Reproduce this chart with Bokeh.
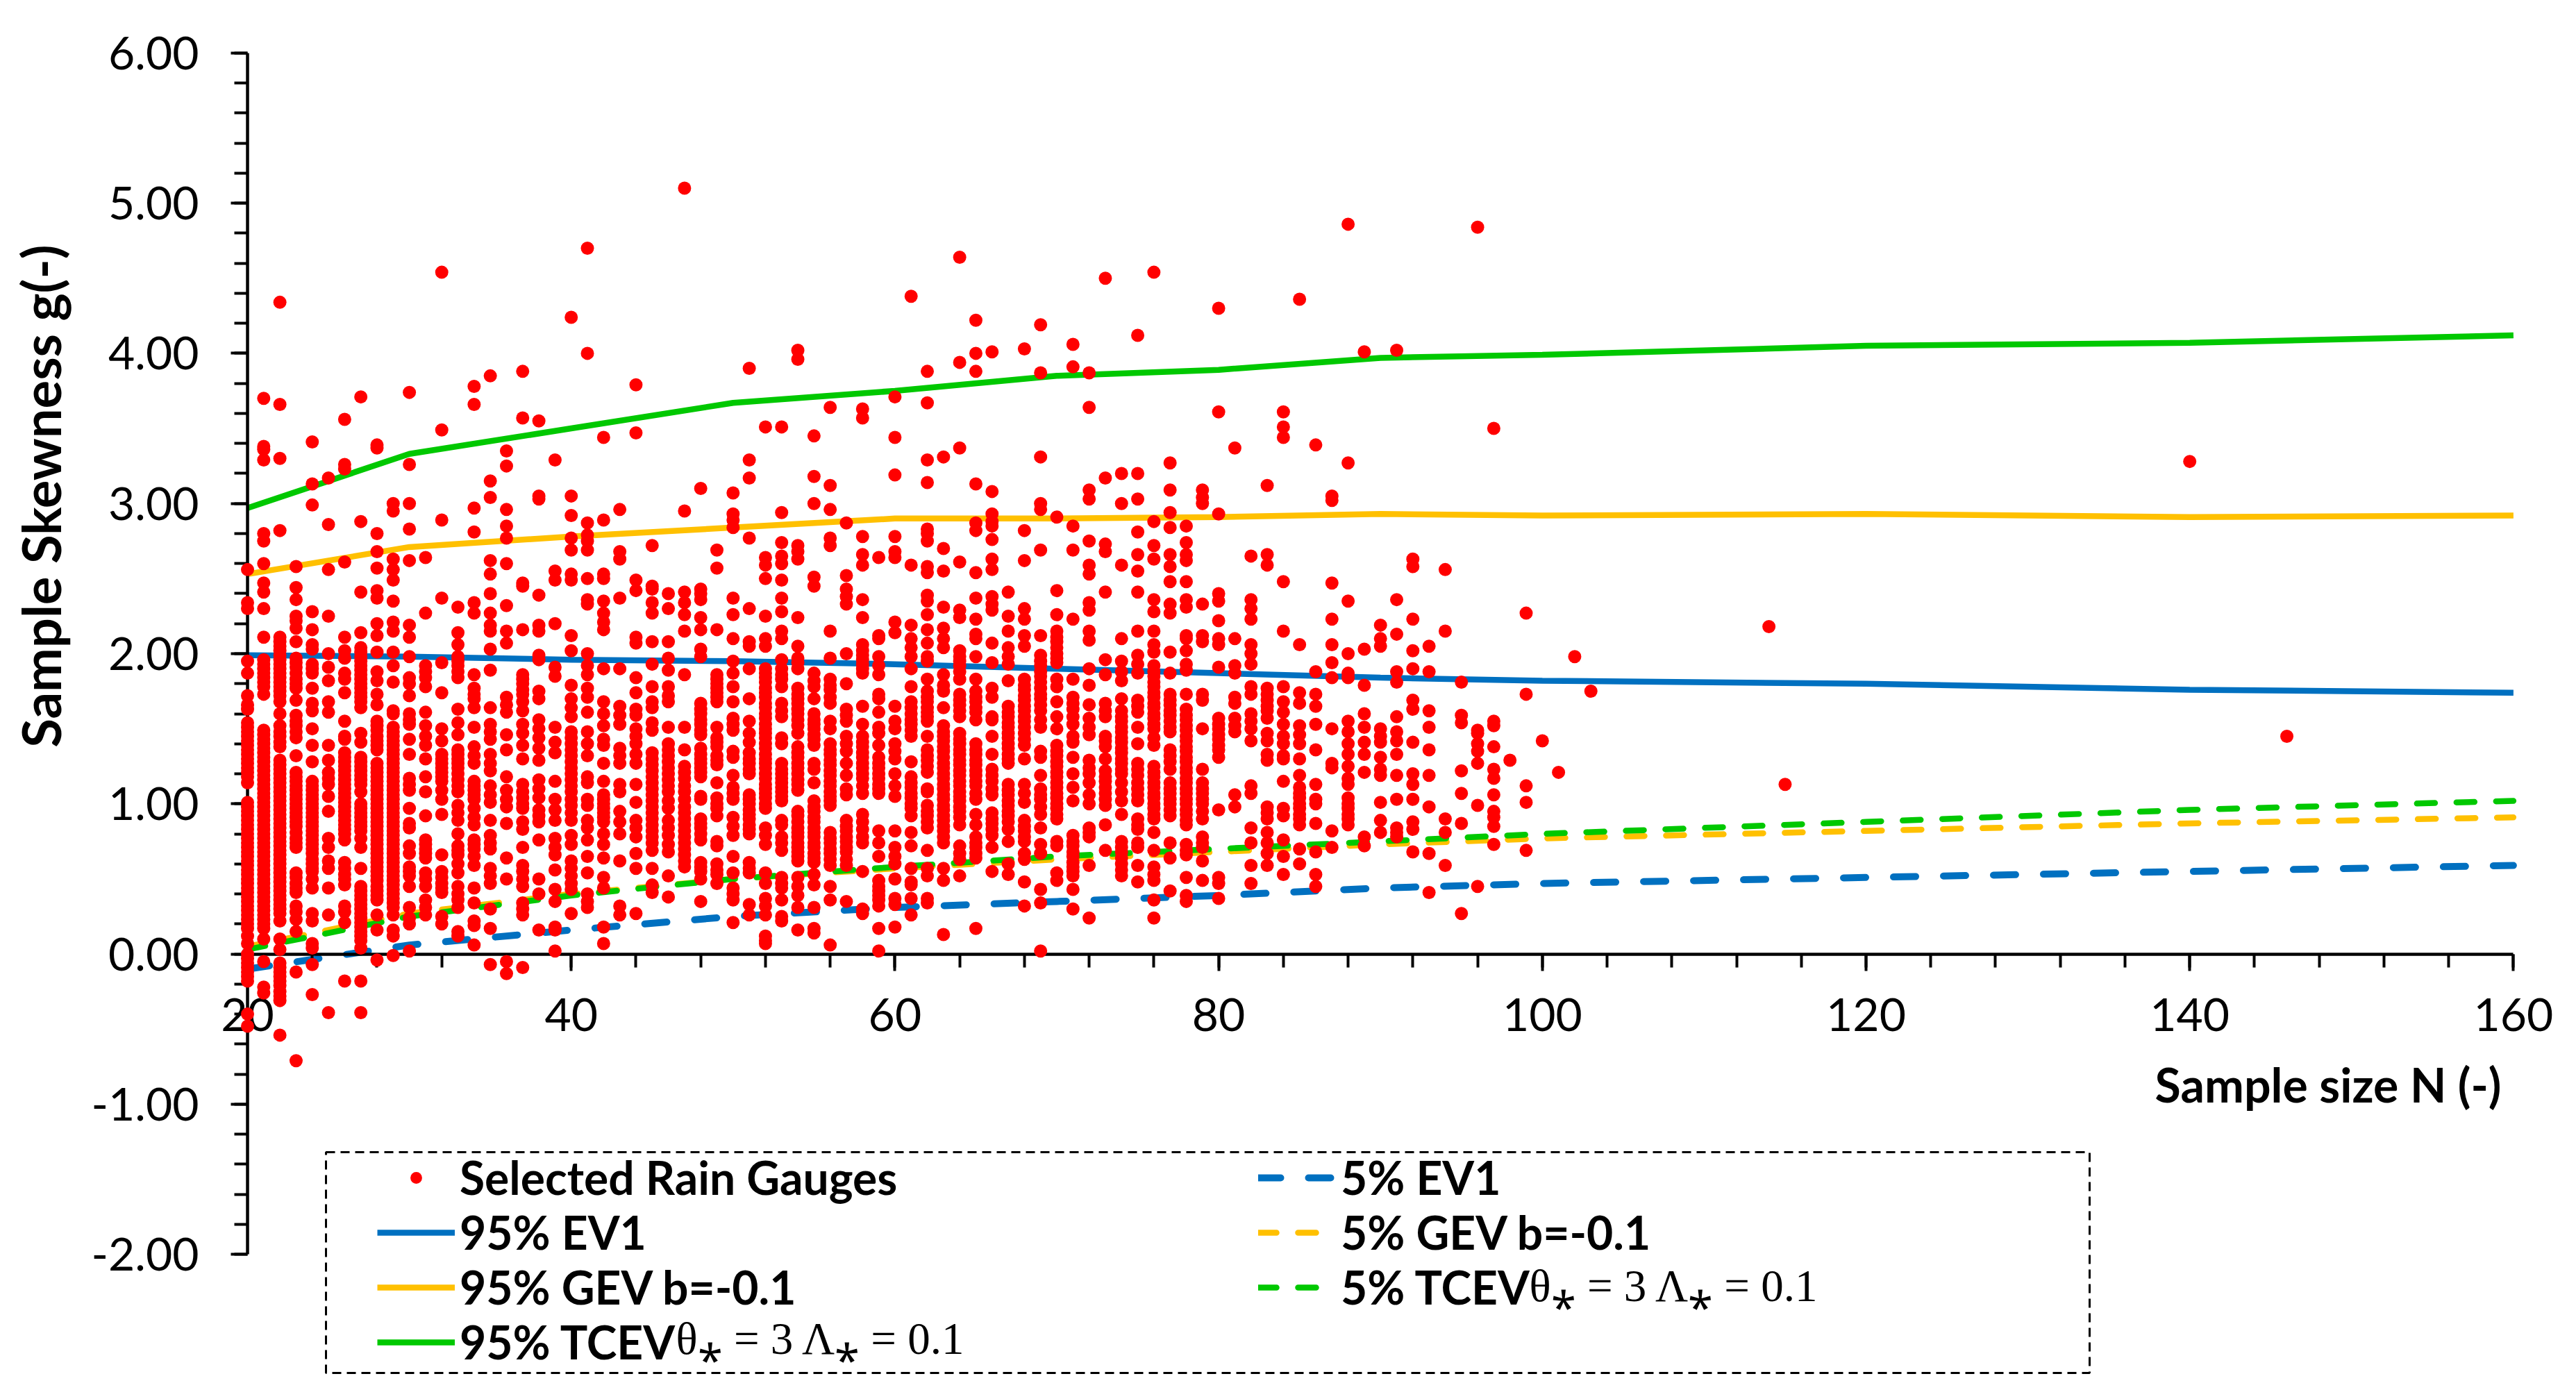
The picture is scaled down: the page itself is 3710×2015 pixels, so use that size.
import math
from bokeh.embed import file_html
from bokeh.resources import INLINE
from bokeh.plotting import figure
from bokeh.models import (Range1d, LinearAxis, FixedTicker, NumeralTickFormatter,
                          Legend, LegendItem, Label, BoxAnnotation)

# ---- rain gauge points: sample size N -> skewness values
g20=[2.56,2.34,2.30,1.95,1.87,1.72,1.66,1.63,1.54,1.51,1.48,1.45,1.42,1.39,1.36,1.33,1.30,1.27,1.24,1.21,1.18,1.14,1.01,.98,.95,.92,.89,.86,.83,.80,.77,.74,.71,.68,.65,.62,.59,.56,.53,.50,.47,.44,.41,.38,.35,.32,.29,.26,.23,.20,.17,.12,.07,0,-.03,-.06,-.09,-.12,-.15,-.18,-.40,-.48]
g21=[3.70,3.38,3.36,3.29,2.80,2.75,2.60,2.47,2.41,2.30,2.11,1.96,1.93,1.90,1.87,1.84,1.81,1.78,1.73,1.49,1.46,1.43,1.40,1.37,1.34,1.31,1.28,1.25,1.22,1.19,1.16,1.13,1.10,1.07,1.04,1.01,.98,.95,.92,.89,.86,.83,.80,.77,.74,.71,.68,.65,.62,.59,.56,.53,.50,.47,.44,.41,.38,.35,.32,.29,.26,.23,.20,.17,.10,-.05,-.22,-.26]
g22=[4.34,3.66,3.30,2.82,2.11,2.08,2.05,2.02,1.99,1.96,1.93,1.90,1.87,1.84,1.81,1.78,1.75,1.72,1.68,1.60,1.52,1.48,1.45,1.41,1.38,1.29,1.26,1.23,1.20,1.17,1.14,1.11,1.08,1.05,1.02,.99,.96,.93,.90,.87,.84,.81,.78,.75,.72,.69,.66,.63,.60,.57,.54,.51,.48,.45,.42,.39,.36,.33,.30,.27,.22,.10,.03,-.06,-.09,-.12,-.15,-.18,-.21,-.25,-.28,-.31,-.54]
g23=[2.58,2.44,2.36,2.25,2.22,2.17,2.08,1.97,1.94,1.91,1.87,1.83,1.80,1.77,1.69,1.59,1.55,1.52,1.48,1.44,1.32,1.21,1.18,1.15,1.12,1.09,1.06,1.03,1.0,.97,.94,.91,.88,.85,.81,.77,.74,.71,.54,.51,.47,.44,.41,.32,.28,.23,.15,-.12,-.71]
g24=[3.41,3.13,2.99,2.28,2.16,2.06,2.03,1.93,1.90,1.87,1.77,1.67,1.62,1.50,1.39,1.28,1.15,1.12,1.09,1.06,1.03,1.0,.97,.94,.91,.88,.85,.82,.79,.76,.73,.70,.67,.63,.60,.57,.55,.50,.44,.27,.22,.07,.04,-.07,-.27]
g25=[3.17,2.86,2.56,2.25,2.0,1.91,1.82,1.68,1.61,1.39,1.29,1.21,1.17,1.13,1.05,.95,.77,.71,.62,.57,.44,.26,-.39]
g26=[3.56,3.26,3.23,2.61,2.11,2.02,1.97,1.87,1.83,1.74,1.55,1.45,1.43,1.34,1.31,1.28,1.25,1.22,1.19,1.16,1.13,1.10,1.07,1.04,1.01,.98,.95,.92,.89,.86,.83,.80,.76,.61,.57,.53,.50,.46,.32,.28,.21,-.18]
g27=[3.71,2.88,2.41,2.14,2.04,2.01,1.98,1.95,1.92,1.89,1.86,1.83,1.80,1.77,1.74,1.71,1.68,1.64,1.47,1.41,1.31,1.28,1.25,1.22,1.19,1.16,1.13,1.08,1.0,.97,.94,.91,.88,.85,.82,.77,.71,.57,.45,.42,.39,.36,.33,.30,.27,.24,.21,.18,.15,.12,.09,.04,-.18,-.39]
g28=[3.39,3.37,2.80,2.68,2.57,2.42,2.37,2.20,2.12,2.01,1.88,1.82,1.73,1.66,1.55,1.52,1.49,1.45,1.42,1.39,1.36,1.27,1.24,1.21,1.18,1.15,1.12,1.09,1.06,1.03,1.0,.97,.94,.91,.88,.85,.82,.79,.76,.73,.70,.67,.64,.61,.58,.55,.52,.49,.45,.42,.39,.36,.26,.16,-.04]
g29=[3.0,2.95,2.63,2.56,2.49,2.35,2.21,2.15,2.01,1.92,1.81,1.62,1.60,1.51,1.48,1.45,1.42,1.39,1.36,1.33,1.30,1.27,1.24,1.21,1.18,1.15,1.12,1.09,1.06,1.03,1.0,.97,.94,.91,.88,.85,.82,.79,.76,.73,.70,.67,.64,.61,.58,.55,.52,.49,.46,.43,.40,.37,.34,.31,.26,.16,.12,-.01]
g30=[3.74,3.26,3.0,2.83,2.62,2.19,2.11,1.98,1.84,1.80,1.72,1.60,1.56,1.53,1.43,1.33,1.17,1.13,1.09,.97,.87,.84,.72,.67,.58,.55,.52,.45,.31,.24,.20,.02]
g31=[2.64,2.27,1.92,1.88,1.84,1.78,1.61,1.52,1.45,1.39,1.30,1.18,1.08,.92,.76,.73,.70,.67,.64,.54,.50,.45,.36,.31,.26]
g32=[4.54,3.49,2.89,2.37,1.94,1.74,1.50,1.42,1.33,1.30,1.27,1.24,1.21,1.18,1.15,1.09,1.03,.93,.66,.55,.51,.47,.44,.41,.25,.20]
g33=[2.31,2.14,2.06,1.98,1.95,1.92,1.88,1.84,1.63,1.54,1.46,1.36,1.33,1.30,1.27,1.24,1.20,1.16,1.12,1.08,.99,.94,.89,.80,.72,.69,.66,.60,.54,.45,.40,.36,.31,.15,.12]
g34=[3.78,3.66,2.97,2.81,2.34,2.27,1.86,1.77,1.73,1.70,1.64,1.51,1.38,1.32,1.27,1.15,1.12,1.09,1.06,1.03,.97,.91,.86,.76,.73,.70,.65,.59,.44,.34,.22,.19,.06]
g35=[3.85,3.15,3.04,2.62,2.53,2.40,2.27,2.19,2.15,2.03,1.89,1.64,1.53,1.48,1.43,1.33,1.27,1.22,1.12,1.06,1.01,.89,.79,.74,.70,.57,.52,.47,.30,.17,-.07]
g36=[3.35,3.25,2.96,2.85,2.77,2.60,2.32,2.15,2.07,1.71,1.66,1.61,1.46,1.36,1.18,1.09,1.03,.98,.87,.64,.50,-.05,-.13]
g37=[3.88,3.57,2.47,2.45,2.16,1.86,1.83,1.80,1.76,1.73,1.68,1.62,1.53,1.47,1.39,1.30,1.13,1.08,1.04,1.0,.97,.88,.83,.71,.59,.55,.50,.45,.34,.30,.26,-.09]
g38=[3.55,3.05,3.03,2.39,2.19,2.15,1.99,1.96,1.75,1.70,1.56,1.50,1.44,1.37,1.29,1.16,1.10,1.04,.96,.92,.88,.76,.50,.40,.16]
g39=[3.29,2.55,2.49,2.20,1.91,1.85,1.51,1.41,1.34,1.15,1.03,.96,.89,.77,.71,.66,.56,.43,.35,.18,.16,.02]
g40=[4.24,3.05,2.92,2.77,2.69,2.53,2.49,2.12,2.02,1.79,1.70,1.64,1.58,1.48,1.44,1.40,1.36,1.32,1.28,1.24,1.20,1.16,1.12,1.08,1.03,.99,.94,.89,.79,.73,.62,.57,.52,.47,.43,.27]
g41=[4.70,4.0,2.87,2.79,2.75,2.69,2.50,2.36,2.33,2.0,1.92,1.86,1.77,1.71,1.61,1.48,1.40,1.32,1.18,1.14,1.03,.99,.89,.84,.76,.65,.54,.40,.35,.31]
g42=[3.44,2.89,2.53,2.50,2.35,2.27,2.21,2.16,1.90,1.68,1.60,1.52,1.43,1.39,1.27,1.15,1.06,1.03,1.0,.97,.94,.91,.88,.80,.73,.64,.51,.44,.18,.07]
g43=[2.96,2.68,2.63,2.37,1.90,1.65,1.59,1.53,1.37,1.32,1.27,1.13,1.08,.95,.88,.80,.62,.32,.26]
g44=[3.79,3.47,2.49,2.42,2.11,2.07,1.84,1.74,1.63,1.59,1.50,1.45,1.40,1.33,1.27,1.13,1.01,.89,.84,.78,.67,.57,.27]
g45=[2.72,2.45,2.43,2.34,2.27,2.08,1.93,1.78,1.68,1.64,1.54,1.49,1.34,1.30,1.26,1.22,1.18,1.14,1.10,1.06,1.02,.98,.94,.90,.86,.82,.78,.74,.69,.57,.46,.41]
g46=[2.40,2.30,2.08,1.97,1.89,1.78,1.72,1.68,1.51,1.40,1.36,1.32,1.28,1.24,1.20,1.16,1.12,1.08,1.02,.97,.89,.84,.79,.73,.68,.52,.38]
g47=[5.10,2.95,2.41,2.34,2.26,2.15,1.86,1.51,1.36,1.25,1.21,1.17,1.12,1.08,1.03,.98,.94,.90,.86,.82,.78,.74,.70,.66,.62,.58]
g48=[3.10,2.43,2.40,2.36,2.24,2.16,2.03,1.98,1.67,1.63,1.60,1.56,1.53,1.49,1.46,1.37,1.33,1.30,1.27,1.24,1.21,1.18,1.05,1.03,.90,.87,.84,.80,.76,.61,.58,.55,.50,.35]
g49=[2.69,2.57,2.16,1.86,1.83,1.80,1.77,1.74,1.71,1.68,1.51,1.44,1.41,1.38,1.32,1.29,1.26,1.14,1.04,1.0,.97,.92,.75,.72,.60,.56,.53,.47]
g50=[3.07,2.93,2.89,2.84,2.37,2.26,2.10,1.95,1.87,1.78,1.68,1.57,1.53,1.49,1.35,1.31,1.19,1.11,1.07,1.03,.91,.85,.79,.65,.54,.44,.40,.36,.21]
g51=[3.90,3.29,3.17,2.77,2.30,2.08,2.05,1.90,1.70,1.55,1.47,1.41,1.34,1.30,1.27,1.23,1.20,1.06,1.03,1.0,.96,.93,.90,.86,.83,.80,.61,.57,.54,.33,.26]
g52=[3.51,2.64,2.59,2.50,2.25,2.10,2.05,1.90,1.87,1.84,1.81,1.77,1.74,1.71,1.67,1.64,1.60,1.57,1.53,1.50,1.47,1.44,1.40,1.37,1.33,1.30,1.27,1.24,1.20,1.17,1.13,1.10,1.07,1.04,1.0,.97,.84,.79,.73,.54,.47,.37,.32,.26,.12,.09,.07]
g53=[3.51,2.94,2.74,2.65,2.60,2.49,2.37,2.28,2.15,2.10,1.96,1.90,1.86,1.83,1.78,1.67,1.62,1.58,1.44,1.40,1.27,1.23,1.20,1.17,1.14,1.11,1.08,1.05,1.02,.89,.86,.78,.74,.69,.51,.47,.44,.36,.25,.22]
g54=[4.02,3.96,2.72,2.68,2.63,2.24,2.05,1.97,1.94,1.90,1.77,1.73,1.70,1.67,1.63,1.60,1.56,1.52,1.47,1.38,1.34,1.31,1.27,1.24,1.20,1.16,1.13,1.09,.95,.92,.88,.84,.81,.78,.74,.71,.68,.65,.62,.51,.45,.39,.31,.16]
g55=[3.45,3.18,3.0,2.51,2.45,1.87,1.82,1.78,1.70,1.60,1.56,1.53,1.50,1.46,1.43,1.39,1.27,1.23,1.14,1.02,.98,.95,.91,.88,.84,.81,.78,.74,.71,.67,.64,.61,.53,.46,.31,.17,.14]
g56=[3.64,3.12,2.96,2.77,2.72,2.15,1.97,1.83,1.79,1.76,1.71,1.67,1.55,1.50,1.40,1.36,1.33,1.29,1.26,1.22,1.19,1.15,1.12,1.08,1.05,1.02,.99,.81,.77,.74,.70,.67,.63,.59,.45,.36,.06]
g57=[2.87,2.52,2.43,2.38,2.33,2.0,1.80,1.63,1.59,1.55,1.45,1.40,1.35,1.27,1.19,1.10,1.06,.89,.85,.82,.78,.75,.71,.68,.63,.59,.35]
g58=[3.63,3.57,2.78,2.66,2.59,2.36,2.24,2.06,2.02,1.99,1.96,1.93,1.90,1.87,1.65,1.53,1.45,1.41,1.38,1.34,1.31,1.27,1.24,1.20,1.17,1.12,1.07,.93,.88,.83,.78,.74,.55,.30,.27]
g59=[2.64,2.12,2.10,1.98,1.92,1.86,1.73,1.70,1.61,1.51,1.47,1.39,1.31,1.27,1.24,1.20,1.17,1.13,1.10,1.07,.82,.74,.65,.49,.45,.42,.39,.36,.32,.17,.02]
g60=[3.71,3.44,3.19,2.78,2.68,2.64,2.21,2.14,1.65,1.55,1.50,1.40,1.35,1.30,1.20,1.12,1.05,.82,.71,.65,.60,.50,.37,.33,.18]
g61=[4.38,2.59,2.19,2.10,2.04,1.98,1.90,1.78,1.68,1.64,1.60,1.56,1.53,1.49,1.45,1.28,1.18,1.14,1.11,1.07,1.04,1.0,.97,.92,.81,.72,.57,.48,.46,.37,.26]
g62=[3.88,3.67,3.29,3.14,2.83,2.80,2.75,2.58,2.54,2.39,2.35,2.26,2.16,2.07,1.98,1.95,1.83,1.75,1.71,1.68,1.64,1.61,1.58,1.55,1.45,1.36,1.32,1.29,1.25,1.21,1.10,1.08,.99,.95,.92,.88,.84,.69,.57,.52,.37,.34]
g63=[3.31,2.70,2.55,2.31,2.17,2.10,2.04,1.86,1.79,1.75,1.64,1.52,1.48,1.45,1.42,1.38,1.35,1.31,1.27,1.24,1.20,1.17,1.13,1.10,1.06,1.03,.99,.96,.92,.89,.85,.82,.78,.74,.57,.49,.13]
g64=[4.64,3.94,3.37,2.61,2.29,2.24,2.02,1.98,1.95,1.92,1.88,1.83,1.73,1.69,1.66,1.62,1.58,1.47,1.43,1.40,1.36,1.33,1.29,1.26,1.22,1.19,1.15,1.12,1.08,1.05,1.02,.98,.95,.91,.86,.72,.67,.63,.52]
g65=[4.22,4.0,3.88,3.13,2.87,2.82,2.54,2.37,2.23,2.13,2.10,1.98,1.83,1.75,1.71,1.68,1.64,1.61,1.56,1.40,1.36,1.33,1.29,1.26,1.22,1.19,1.15,1.12,1.07,1.03,.93,.86,.78,.74,.71,.67,.64,.17]
g66=[4.01,3.08,2.93,2.88,2.85,2.76,2.63,2.56,2.38,2.33,2.29,2.07,1.94,1.77,1.71,1.58,1.56,1.45,1.33,1.23,1.19,1.15,1.10,1.06,.94,.90,.87,.83,.79,.71,.55]
g67=[2.41,2.25,2.15,2.04,1.98,1.93,1.82,1.65,1.61,1.58,1.54,1.51,1.47,1.44,1.40,1.37,1.33,1.30,1.27,1.13,1.09,1.06,1.02,.99,.95,.92,.88,.83,.75,.60,.53]
g68=[4.03,2.82,2.62,2.30,2.23,2.12,2.05,1.83,1.79,1.76,1.72,1.69,1.65,1.62,1.58,1.55,1.51,1.47,1.43,1.39,1.30,1.13,1.07,1.01,.89,.85,.82,.78,.75,.67,.63,.48,.32]
g69=[4.19,3.87,3.31,3.0,2.96,2.69,2.12,1.99,1.95,1.92,1.88,1.85,1.81,1.77,1.73,1.70,1.66,1.62,1.56,1.51,1.35,1.31,1.19,1.10,1.06,1.03,.98,.93,.84,.73,.67,.43,.34,.02]
g70=[2.91,2.42,2.26,2.15,2.11,2.08,2.04,2.0,1.97,1.94,1.83,1.78,1.68,1.58,1.50,1.39,1.35,1.32,1.28,1.25,1.21,1.18,1.14,1.11,1.07,1.04,1.0,.97,.93,.90,.75,.72,.54,.49]
g71=[4.06,3.91,2.85,2.69,2.23,1.83,1.71,1.67,1.63,1.58,1.53,1.45,1.41,1.31,1.20,1.11,1.02,.79,.75,.72,.68,.65,.61,.58,.55,.52,.43,.30]
g72=[3.87,3.64,3.09,3.03,2.75,2.59,2.53,2.34,2.29,2.15,2.09,1.90,1.79,1.66,1.57,1.51,1.46,1.29,1.24,1.20,1.14,1.06,1.0,.84,.81,.78,.59,.24]
g73=[4.50,3.17,2.73,2.68,2.41,1.96,1.86,1.67,1.62,1.58,1.45,1.42,1.38,1.30,1.22,1.18,1.15,1.11,1.07,1.03,.99,.86,.69]
g74=[3.20,3.0,2.59,2.10,1.95,1.88,1.82,1.70,1.62,1.58,1.55,1.51,1.48,1.44,1.41,1.37,1.34,1.30,1.27,1.23,1.20,1.14,1.08,1.02,.93,.75,.71,.68,.64,.60,.56,.52]
g75=[4.12,3.20,3.03,2.81,2.66,2.55,2.41,2.15,1.99,1.93,1.87,1.69,1.65,1.61,1.51,1.40,1.27,1.23,1.19,1.14,1.10,1.06,1.02,.90,.86,.83,.74,.71,.59,.48]
g76=[4.54,2.88,2.72,2.63,2.36,2.28,2.15,2.06,2.01,1.92,1.88,1.85,1.81,1.78,1.74,1.71,1.67,1.64,1.60,1.57,1.53,1.50,1.44,1.39,1.25,1.21,1.18,1.14,1.11,1.07,1.04,1.0,.97,.93,.90,.81,.69,.58,.53,.49,.36,.24]
g77=[3.27,3.09,2.94,2.84,2.66,2.58,2.48,2.33,2.27,2.01,1.87,1.73,1.69,1.66,1.62,1.59,1.55,1.51,1.48,1.36,1.32,1.28,1.23,1.14,1.10,1.07,1.03,1.0,.96,.92,.74,.64,.42]
g78=[2.85,2.74,2.66,2.62,2.48,2.36,2.31,2.12,2.10,2.02,1.93,1.89,1.73,1.63,1.59,1.56,1.52,1.49,1.45,1.42,1.38,1.35,1.31,1.28,1.24,1.21,1.17,1.14,1.10,1.07,1.03,1.0,.96,.93,.89,.86,.73,.69,.66,.51,.39,.35]
g79=[3.09,3.04,3.0,2.33,2.12,2.08,1.73,1.69,1.50,1.23,1.14,1.10,1.07,1.03,1.0,.95,.90,.78,.74,.71,.62,.49]
g80=[4.30,3.61,2.93,2.40,2.35,2.22,2.10,2.06,1.91,1.57,1.53,1.50,1.46,1.43,1.39,1.36,1.31,.96,.51,.47,.37]
g81=[3.37,2.10,1.92,1.87,1.71,1.67,1.57,1.52,1.48,1.06,.98]
g82=[2.65,2.36,2.30,2.23,2.06,2.0,1.93,1.78,1.73,1.60,1.55,1.50,1.42,1.12,1.07,.84,.74,.59,.47]
g83=[3.12,2.66,2.59,1.77,1.73,1.69,1.65,1.62,1.57,1.47,1.42,1.33,1.29,.98,.94,.90,.81,.74,.67,.59]
g84=[3.61,3.51,3.44,2.48,2.15,1.78,1.68,1.61,1.53,1.45,1.40,1.32,1.30,1.15,.97,.92,.76,.65,.53]
g85=[4.36,2.06,1.74,1.67,1.52,1.46,1.40,1.30,1.19,1.11,1.07,1.04,1.0,.97,.93,.90,.86,.70,.60]
g86=[3.39,1.88,1.73,1.65,1.53,1.36,1.13,1.03,1.0,.87,.68,.53,.45]
g87=[3.05,3.02,2.47,2.23,2.06,1.94,1.84,1.50,1.27,1.24,.82,.71]
g88=[4.86,3.27,2.35,2.0,1.87,1.84,1.55,1.48,1.40,1.33,1.25,1.17,1.13,1.04,1.0,.97,.93,.90,.86]
g89=[4.01,2.03,1.79,1.60,1.51,1.41,1.33,1.21,.78,.72]
g90=[2.19,2.10,2.05,1.50,1.45,1.41,1.31,1.23,1.19,1.01,.89,.81]
g91=[4.02,2.36,2.13,1.88,1.81,1.58,1.48,1.42,1.33,1.19,1.03,.84,.81,.78]
g92=[2.63,2.58,2.23,2.02,1.90,1.69,1.63,1.41,1.20,1.13,1.03,.88,.83,.68]
g93=[2.05,1.88,1.62,1.51,1.36,1.19,.98,.67,.41]
g94=[2.56,2.15,.90,.81,.59]
g95=[1.81,1.59,1.54,1.22,1.07,.87,.27]
g96=[4.84,1.49,1.47,1.40,1.35,1.27,.99,.45]
g97=[3.50,1.55,1.52,1.38,1.23,1.17,1.06,.95,.91,.85,.73]
g98=[1.29]
g99=[2.27,1.73,1.12,1.01,.69]
g100=[1.42]
g101=[1.21]
g102=[1.98]
g103=[1.75]
g114=[2.18]
g115=[1.13]
g140=[3.28]
g146=[1.45]

gauge_columns = [(20,g20),(21,g21),(22,g22),(23,g23),(24,g24),(25,g25),(26,g26),(27,g27),(28,g28),(29,g29),
 (30,g30),(31,g31),(32,g32),(33,g33),(34,g34),(35,g35),(36,g36),(37,g37),(38,g38),(39,g39),
 (40,g40),(41,g41),(42,g42),(43,g43),(44,g44),(45,g45),(46,g46),(47,g47),(48,g48),(49,g49),
 (50,g50),(51,g51),(52,g52),(53,g53),(54,g54),(55,g55),(56,g56),(57,g57),(58,g58),(59,g59),
 (60,g60),(61,g61),(62,g62),(63,g63),(64,g64),(65,g65),(66,g66),(67,g67),(68,g68),(69,g69),
 (70,g70),(71,g71),(72,g72),(73,g73),(74,g74),(75,g75),(76,g76),(77,g77),(78,g78),(79,g79),
 (80,g80),(81,g81),(82,g82),(83,g83),(84,g84),(85,g85),(86,g86),(87,g87),(88,g88),(89,g89),
 (90,g90),(91,g91),(92,g92),(93,g93),(94,g94),(95,g95),(96,g96),(97,g97),(98,g98),(99,g99),
 (100,g100),(101,g101),(102,g102),(103,g103),(114,g114),(115,g115),(140,g140),(146,g146)]

# ---- curves
curve_n     = [20,30,40,50,60,70,80,90,100,120,140,160]
ev1_95      = [1.99,1.98,1.96,1.95,1.93,1.90,1.87,1.84,1.82,1.80,1.76,1.74]
gev_95      = [2.53,2.71,2.78,2.84,2.90,2.90,2.91,2.93,2.92,2.93,2.91,2.92]
tcev_95     = [2.97,3.33,3.50,3.67,3.75,3.85,3.89,3.97,3.99,4.05,4.07,4.12]
ev1_5       = [-.10,.06,.16,.25,.31,.35,.39,.44,.47,.51,.55,.59]
gev_5       = [.05,.27,.40,.50,.57,.63,.68,.73,.77,.82,.87,.91]
tcev_5      = [.03,.25,.39,.50,.58,.65,.70,.75,.80,.88,.96,1.02]

x_major = [20,40,60,80,100,120,140,160]
x_minor = [20,24,28,32,36,40,44,48,52,56,60,64,68,72,76,80,84,88,92,96,100,104,108,112,116,120,124,128,132,136,140,144,148,152,156,160]
y_major = [-2,-1,0,1,2,3,4,5,6]
y_minor = [-2,-1.8,-1.6,-1.4,-1.2,-1,-.8,-.6,-.4,-.2,0,.2,.4,.6,.8,1,1.2,1.4,1.6,1.8,2,2.2,2.4,2.6,2.8,3,3.2,3.4,3.6,3.8,4,4.2,4.4,4.6,4.8,5,5.2,5.4,5.6,5.8,6]

BLUE, YELLOW, GREEN, RED = "#0070C0", "#FFC000", "#00C800", "#FF0000"
FONT = "Lato"
W, H = 3694, 1999
PX_N = 23.31; PX_G = 216.3; X20 = 356; Y0 = 1373.6
def dx(px): return 20 + (px - X20) / PX_N
def dy(py): return (Y0 - py) / PX_G

p = figure(width=W, height=H, output_backend="svg", toolbar_location=None,
           x_axis_type=None, y_axis_type=None, min_border=0,
           x_range=Range1d(dx(0), dx(W)), y_range=Range1d(dy(H), dy(0)))
p.outline_line_color = None
p.grid.visible = False

xa = LinearAxis(fixed_location=0, bounds=(20, 160),
                ticker=FixedTicker(ticks=x_major, minor_ticks=x_minor))
ya = LinearAxis(fixed_location=20, bounds=(-2, 6),
                ticker=FixedTicker(ticks=y_major, minor_ticks=y_minor),
                formatter=NumeralTickFormatter(format="0.00"))
for a, so in ((xa, 40), (ya, 46)):
    a.axis_line_width = 4.5
    a.axis_line_color = "black"
    a.major_tick_line_width = 4
    a.minor_tick_line_width = 4
    a.major_tick_out = 24
    a.major_tick_in = 0
    a.minor_tick_out = 19
    a.minor_tick_in = 0
    a.major_label_text_font = FONT
    a.major_label_text_font_size = "66px"
    a.major_label_text_color = "black"
    a.major_label_standoff = so
ya.major_label_orientation = "horizontal"
p.add_layout(xa, "below")
p.add_layout(ya, "left")

xs = [n for n, vals in gauge_columns for _ in vals]
ys = [v for _, vals in gauge_columns for v in vals]

l_ev95 = p.line(curve_n, ev1_95, line_color=BLUE, line_width=8.5)
l_gev95 = p.line(curve_n, gev_95, line_color=YELLOW, line_width=8.5)
l_tc95 = p.line(curve_n, tcev_95, line_color=GREEN, line_width=8.5)
l_ev5 = p.line(curve_n, ev1_5, line_color=BLUE, line_width=10, line_dash="32 40", line_cap="round")
l_gev5 = p.line(curve_n, gev_5, line_color=YELLOW, line_width=8.5, line_dash="26 31", line_cap="round")
l_tc5 = p.line(curve_n, tcev_5, line_color=GREEN, line_width=8.5, line_dash="26 31", line_cap="round")
pts = p.scatter(xs, ys, size=19, fill_color=RED, line_color=None, level="annotation")

legend = Legend(items=[
    LegendItem(label="Selected Rain Gauges", renderers=[pts]),
    LegendItem(label="95% EV1", renderers=[l_ev95]),
    LegendItem(label="95% GEV b=-0.1", renderers=[l_gev95]),
    LegendItem(label="95% TCEV", renderers=[l_tc95]),
    LegendItem(label="5% EV1", renderers=[l_ev5]),
    LegendItem(label="5% GEV b=-0.1", renderers=[l_gev5]),
    LegendItem(label="5% TCEV", renderers=[l_tc5]),
], location=(543, 27), nrows=4, orientation="vertical", margin=0, padding=0,
   spacing=0, glyph_width=112, glyph_height=42, label_height=79, label_width=1150, label_standoff=7,
   label_text_font=FONT, label_text_font_style="bold", label_text_font_size="66px",
   label_text_color="black", background_fill_alpha=0, border_line_color=None)
p.add_layout(legend)

p.add_layout(BoxAnnotation(left=dx(469), right=dx(3009), top=dy(1659), bottom=dy(1977),
                           fill_alpha=0, line_color="black", line_alpha=1, line_width=3, line_dash="13 8"))

for txt, px, py in (("\u03b8\u204e = 3 \u039b\u204e = 0.1", 973, 1927), ("\u03b8\u204e = 3 \u039b\u204e = 0.1", 2202, 1851)):
    p.add_layout(Label(x=dx(px), y=dy(py), text=txt, text_font="Liberation Serif", text_font_size="65px",
                       text_color="black", text_baseline="alphabetic", text_align="left"))

p.add_layout(Label(x=dx(3602), y=dy(1561), text="Sample size N (-)", text_font=FONT, text_font_style="bold",
                   text_font_size="68px", text_color="black", text_align="right", text_baseline="alphabetic"))
p.add_layout(Label(x=dx(58), y=dy(714), text="Sample Skewness g(-)", text_font=FONT, text_font_style="bold",
                   text_font_size="76px", text_color="black", text_align="center", text_baseline="alphabetic",
                   angle=math.pi / 2))

open("out.html", "w").write(file_html(p, INLINE))
